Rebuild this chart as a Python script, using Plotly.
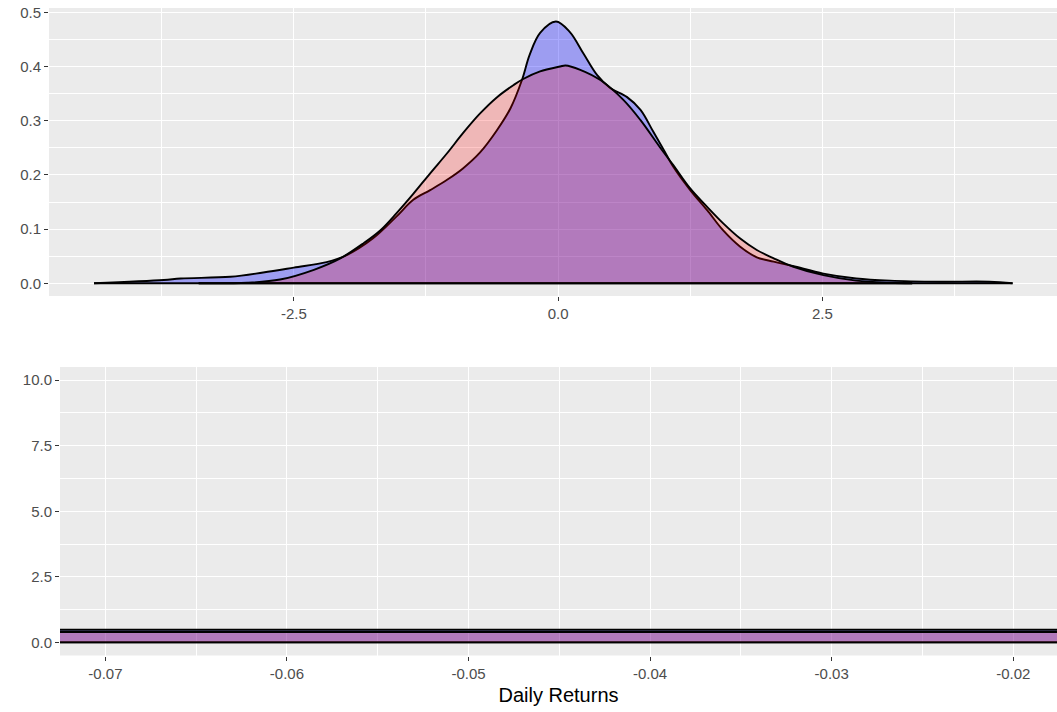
import plotly.graph_objects as go

# Density estimates of standardised daily returns (blue) and a normal reference sample (red)
blue_x = [-4.39, -3.73, -3.57, -3.10, -2.79, -2.50, -2.19, -2.00, -1.75, -1.53, -1.37,
          -1.21, -1.05, -0.90, -0.74, -0.58, -0.45, -0.34, -0.27, -0.17, -0.02,
          0.11, 0.24, 0.37, 0.49, 0.65, 0.78, 0.90, 1.00, 1.09, 1.25, 1.41, 1.56,
          1.72, 1.88, 2.04, 2.22, 2.51, 2.82, 3.14, 3.61, 4.08, 4.30]
blue_y = [0.000, 0.006, 0.009, 0.012, 0.020, 0.029, 0.039, 0.052, 0.083, 0.123, 0.154,
          0.172, 0.191, 0.212, 0.241, 0.282, 0.323, 0.376, 0.421, 0.462, 0.483,
          0.464, 0.424, 0.384, 0.361, 0.344, 0.320, 0.280, 0.246, 0.215, 0.172, 0.135, 0.098,
          0.068, 0.048, 0.040, 0.032, 0.018, 0.009, 0.005, 0.003, 0.003, 0.000]

red_x = [-3.40, -2.94, -2.63, -2.31, -2.06, -1.84, -1.68, -1.53, -1.37, -1.21, -1.05,
         -0.90, -0.74, -0.58, -0.42, -0.33, -0.17, 0.02, 0.07, 0.21, 0.40, 0.62, 0.78,
         0.96, 1.09, 1.25, 1.41, 1.56, 1.72, 1.88, 2.04, 2.22, 2.51, 2.82, 3.14, 3.35]
red_y = [0.000, 0.001, 0.007, 0.025, 0.046, 0.074, 0.098, 0.129, 0.165, 0.203, 0.240,
         0.277, 0.313, 0.343, 0.366, 0.377, 0.391, 0.400, 0.402, 0.394, 0.375, 0.338, 0.301,
         0.252, 0.218, 0.175, 0.141, 0.111, 0.083, 0.0615, 0.046, 0.031, 0.015, 0.005, 0.001, 0.000]

# Axis ticks
top_x_ticks = [-2.5, 0.0, 2.5]
top_x_labels = ["-2.5", "0.0", "2.5"]
top_x_minor = [-3.75, -1.25, 1.25, 3.75]
top_y_ticks = [0.0, 0.1, 0.2, 0.3, 0.4, 0.5]
top_y_labels = ["0.0", "0.1", "0.2", "0.3", "0.4", "0.5"]
top_y_minor = [0.05, 0.15, 0.25, 0.35, 0.45]

bot_x_ticks = [-0.07, -0.06, -0.05, -0.04, -0.03, -0.02]
bot_x_labels = ["-0.07", "-0.06", "-0.05", "-0.04", "-0.03", "-0.02"]
bot_x_minor = [-0.065, -0.055, -0.045, -0.035, -0.025]
bot_y_ticks = [0.0, 2.5, 5.0, 7.5, 10.0]
bot_y_labels = ["0.0", "2.5", "5.0", "7.5", "10.0"]
bot_y_minor = [1.25, 3.75, 6.25, 8.75]

BLUE_FILL = "rgba(0,0,255,0.33)"
RED_FILL = "rgba(255,0,0,0.22)"
FONT = "Liberation Sans, Arial, Helvetica, sans-serif"
LINE_W = 1.9

fig = go.Figure()

for xa, ya in [("x", "y"), ("x2", "y2")]:
    for xs, ys, fc in [(blue_x, blue_y, BLUE_FILL), (red_x, red_y, RED_FILL)]:
        fig.add_trace(go.Scatter(
            x=xs, y=ys, mode="lines", fill="tozeroy", fillcolor=fc,
            line=dict(color="black", width=LINE_W, shape="spline", smoothing=1.0),
            xaxis=xa, yaxis=ya, showlegend=False, hoverinfo="skip"))
        # baseline edge of the density polygon
        fig.add_trace(go.Scatter(
            x=[xs[0], xs[-1]], y=[0, 0], mode="lines",
            line=dict(color="black", width=LINE_W),
            xaxis=xa, yaxis=ya, showlegend=False, hoverinfo="skip"))


def axis_style(tickvals, ticktext, minor_vals):
    return dict(
        tickmode="array", tickvals=tickvals, ticktext=ticktext,
        ticks="outside", ticklen=4, tickwidth=1.1, tickcolor="#333333",
        tickfont=dict(family=FONT, size=15, color="#4D4D4D"),
        showgrid=True, gridcolor="white", gridwidth=1.1,
        minor=dict(tickmode="array", tickvals=minor_vals, showgrid=True,
                   gridcolor="white", gridwidth=0.55, ticks=""),
        zeroline=False, showline=False, automargin=False,
    )


W, H = 1057, 712
L = 49
fig.update_layout(
    width=W, height=H,
    margin=dict(l=L, r=0, t=0, b=0),
    paper_bgcolor="white", plot_bgcolor="#EBEBEB",
    template="none",
    xaxis=dict(domain=[0, 1], range=[-4.816, 4.72], anchor="y",
               **axis_style(top_x_ticks, top_x_labels, top_x_minor)),
    yaxis=dict(domain=[(H - 296) / H, (H - 8) / H], range=[-0.0234, 0.508], anchor="x",
               **axis_style(top_y_ticks, top_y_labels, top_y_minor)),
    xaxis2=dict(domain=[(60 - L) / (W - L), 1], range=[-0.0725, -0.01759], anchor="y2",
                title=dict(text="Daily Returns", standoff=7,
                           font=dict(family=FONT, size=20, color="black")),
                **axis_style(bot_x_ticks, bot_x_labels, bot_x_minor)),
    yaxis2=dict(domain=[(H - 655.5) / H, (H - 367) / H], range=[-0.5, 10.5], anchor="x2",
                **axis_style(bot_y_ticks, bot_y_labels, bot_y_minor)),
)

fig.write_html("out.html")
